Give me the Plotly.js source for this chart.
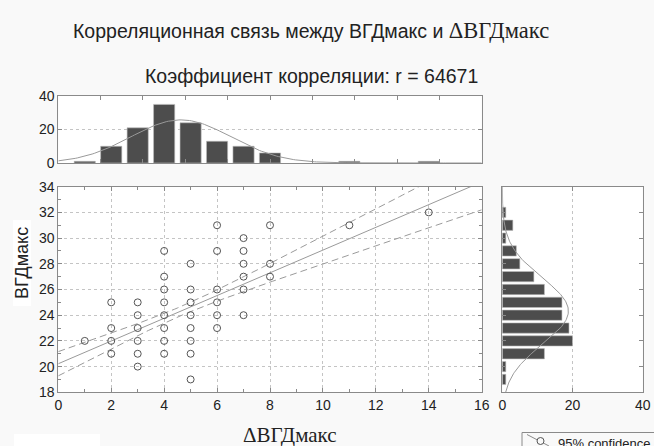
<!DOCTYPE html>
<html>
<head>
<meta charset="utf-8">
<script src="https://cdn.plot.ly/plotly-3.0.1.min.js"></script>
<style>html,body{margin:0;padding:0;background:#f9f9f9;}#chart{width:654px;height:446px;}</style>
</head>
<body>
<div id="chart"></div>
<script>
// ---- Data ----
// Scatter points (distinct positions visible)
const pointsX = [1, 2,2,2,2, 3,3,3,3,3,3, 4,4,4,4,4,4,4,4, 5,5,5,5,5,5,5,5, 6,6,6,6,6,6, 7,7,7,7,7,7, 8,8,8, 11, 14];
const pointsY = [22, 25,23,22,21, 25,24,23,22,21,20, 29,27,26,25,24,23,22,21, 28,26,25,24,23,22,21,19, 31,29,26,25,24,23, 30,29,28,27,26,24, 31,28,27, 31, 32];
// Marginal histogram of ΔВГДмакс (top)
const histXValues = [1, 2, 3, 4, 5, 6, 7, 8, 11, 14];
const histXCounts = [1, 10, 21, 35, 24, 13, 10, 6, 1, 1];
// Marginal histogram of ВГДмакс (right)
const histYValues = [32, 31, 30, 29, 28, 27, 26, 25, 24, 23, 22, 21, 20, 19];
const histYCounts = [1, 3, 1, 4, 5, 9, 12, 17, 17, 19, 20, 12, 1, 1];
const corrR = 0.64671;
const tCrit = 1.98;

// ---- Statistics derived from the data ----
function stats(vals, counts) {
  let n = 0, s = 0, s2 = 0;
  vals.forEach((v, i) => { n += counts[i]; s += v * counts[i]; s2 += v * v * counts[i]; });
  const mean = s / n;
  const ssd = s2 - n * mean * mean;
  return { n, mean, ssd, sd: Math.sqrt(ssd / (n - 1)) };
}
const sx = stats(histXValues, histXCounts);
const sy = stats(histYValues, histYCounts);
const N = sx.n;
const slope = corrR * sy.sd / sx.sd;
const intercept = sy.mean - slope * sx.mean;
const sRes = sy.sd * Math.sqrt(1 - corrR * corrR) * Math.sqrt((N - 1) / (N - 2));

function normalCurve(mean, sd, n, lo, hi) {
  const a = [], b = [];
  for (let i = 0; i <= 200; i++) {
    const v = lo + (hi - lo) * i / 200;
    a.push(v);
    b.push(n * Math.exp(-0.5 * Math.pow((v - mean) / sd, 2)) / (sd * Math.sqrt(2 * Math.PI)));
  }
  return [a, b];
}
const [cxA, cxB] = normalCurve(sx.mean, sx.sd, N, 0, 16);
const [cyA, cyB] = normalCurve(sy.mean, sy.sd, N, 18, 34);

const regX = [], regY = [], upY = [], loY = [];
for (let i = 0; i <= 160; i++) {
  const x = 16 * i / 160;
  const yh = intercept + slope * x;
  const se = sRes * Math.sqrt(1 / N + Math.pow(x - sx.mean, 2) / sx.ssd);
  regX.push(x); regY.push(yh); upY.push(yh + tCrit * se); loY.push(yh - tCrit * se);
}

// ---- Layout helpers ----
const W = 654, H = 446;
const px = v => v / W;
const py = v => 1 - v / H;
const SANS = 'Liberation Sans, Arial, sans-serif';
const SERIF = 'Liberation Serif, Times New Roman, serif';
const AX = '#8a8a8a';
const GRID = '#c4c4c4';
const tickFont = { family: SANS, size: 14, color: '#222' };

const base = {
  showline: true, linecolor: AX, linewidth: 1, mirror: 'ticks',
  ticks: 'inside', ticklen: 4, tickcolor: AX, tickwidth: 1,
  gridcolor: GRID, griddash: 'dot', gridwidth: 1, zeroline: false,
  tickfont: tickFont, fixedrange: true
};

const traces = [
  { type: 'scatter', mode: 'lines', x: regX, y: upY, xaxis: 'x', yaxis: 'y',
    line: { color: '#9a9a9a', width: 1, dash: '7px,4px' }, hoverinfo: 'skip' },
  { type: 'scatter', mode: 'lines', x: regX, y: loY, xaxis: 'x', yaxis: 'y',
    line: { color: '#9a9a9a', width: 1, dash: '7px,4px' }, hoverinfo: 'skip' },
  { type: 'scatter', mode: 'lines', x: regX, y: regY, xaxis: 'x', yaxis: 'y',
    line: { color: '#9a9a9a', width: 1 }, hoverinfo: 'skip' },
  { type: 'scatter', mode: 'markers', x: pointsX, y: pointsY, xaxis: 'x', yaxis: 'y',
    marker: { symbol: 'circle-open', size: 7, color: '#555', line: { width: 1, color: '#555' } } },
  { type: 'bar', x: histXValues, y: histXCounts, xaxis: 'x2', yaxis: 'y2', width: 0.8,
    marker: { color: '#4d4d4d', line: { color: '#bdbdbd', width: 0.6 } } },
  { type: 'scatter', mode: 'lines', x: cxA, y: cxB, xaxis: 'x2', yaxis: 'y2',
    line: { color: '#9a9a9a', width: 1 }, hoverinfo: 'skip' },
  { type: 'bar', orientation: 'h', x: histYCounts, y: histYValues, xaxis: 'x3', yaxis: 'y3', width: 0.8,
    marker: { color: '#4d4d4d', line: { color: '#bdbdbd', width: 0.6 } } },
  { type: 'scatter', mode: 'lines', x: cyB, y: cyA, xaxis: 'x3', yaxis: 'y3',
    line: { color: '#9a9a9a', width: 1 }, hoverinfo: 'skip' }
];

const mainX = [px(58.3), px(481.7)];
const mainY = [py(392.3), py(186.7)];

const layout = {
  width: W, height: H,
  margin: { l: 0, r: 0, t: 0, b: 0 },
  paper_bgcolor: '#f9f9f9', plot_bgcolor: '#ffffff',
  showlegend: false,
  font: { family: SANS, color: '#222' },
  xaxis: Object.assign({}, base, { domain: mainX, anchor: 'y', range: [0, 16], tick0: 0, dtick: 2,
    minor: { dtick: 1, ticks: 'inside', ticklen: 3, tickcolor: AX, showgrid: false } }),
  yaxis: Object.assign({}, base, { domain: mainY, anchor: 'x', range: [18, 34], tick0: 18, dtick: 2,
    minor: { dtick: 1, ticks: 'inside', ticklen: 3, tickcolor: AX, showgrid: false } }),
  xaxis2: Object.assign({}, base, { domain: mainX, anchor: 'y2', range: [0, 16], tick0: 0, dtick: 1.6,
    showticklabels: false, showgrid: false }),
  yaxis2: Object.assign({}, base, { domain: [py(163), py(96)], anchor: 'x2', range: [0, 40], tick0: 0, dtick: 20 }),
  xaxis3: Object.assign({}, base, { domain: [px(502.3), px(642.7)], anchor: 'y3', range: [0, 40], tick0: 0, dtick: 20 }),
  yaxis3: Object.assign({}, base, { domain: mainY, anchor: 'x3', range: [18, 34], tick0: 18, dtick: 2,
    showticklabels: false, showgrid: false }),
  shapes: [
    { type: 'rect', xref: 'paper', yref: 'paper', x0: px(13), x1: px(31), y0: py(306), y1: py(220),
      fillcolor: '#ffffff', line: { width: 0 }, layer: 'below' },
    { type: 'rect', xref: 'paper', yref: 'paper', x0: px(14), x1: px(100), y0: py(452), y1: py(434),
      fillcolor: '#ffffff', line: { width: 0 }, layer: 'below' },
    { type: 'rect', xref: 'paper', yref: 'paper', x0: px(522), x1: px(670), y0: py(460), y1: py(432.5),
      fillcolor: '#f9f9f9', line: { color: '#8a8a8a', width: 1 } },
    { type: 'line', xref: 'paper', yref: 'paper', x0: px(527), x1: px(549), y0: py(434.5), y1: py(446),
      line: { color: '#8a8a8a', width: 1 } },
    { type: 'circle', xref: 'paper', yref: 'paper', x0: px(537), x1: px(544), y0: py(444.5), y1: py(437.5),
      fillcolor: '#f9f9f9', line: { color: '#555', width: 1 } }
  ],
  annotations: [
    { xref: 'paper', yref: 'paper', x: px(311), y: py(31), xanchor: 'center', yanchor: 'middle', showarrow: false,
      text: 'Корреляционная связь между ВГДмакс и <span style="font-family:Liberation Serif, Times New Roman, serif;font-size:22.5px">ΔВГДмакс</span>',
      font: { family: SANS, size: 19.5, color: '#222' } },
    { xref: 'paper', yref: 'paper', x: px(311), y: py(76), xanchor: 'center', yanchor: 'middle', showarrow: false,
      text: 'Коэффициент корреляции: r = 64671',
      font: { family: SANS, size: 19.5, color: '#222' } },
    { xref: 'paper', yref: 'paper', x: px(290), y: py(435), xanchor: 'center', yanchor: 'middle', showarrow: false,
      text: 'ΔВГДмакс', font: { family: SERIF, size: 21, color: '#222' } },
    { xref: 'paper', yref: 'paper', x: px(22), y: py(263), xanchor: 'center', yanchor: 'middle', showarrow: false,
      textangle: -90, text: 'ВГДмакс', font: { family: SANS, size: 18, color: '#222' } },
    { xref: 'paper', yref: 'paper', x: px(556), y: py(443), xanchor: 'left', yanchor: 'middle', showarrow: false,
      text: '95% confidence', font: { family: SANS, size: 13, color: '#222' } }
  ]
};

Plotly.newPlot('chart', traces, layout, { displayModeBar: false, staticPlot: true });
</script>
</body>
</html>
